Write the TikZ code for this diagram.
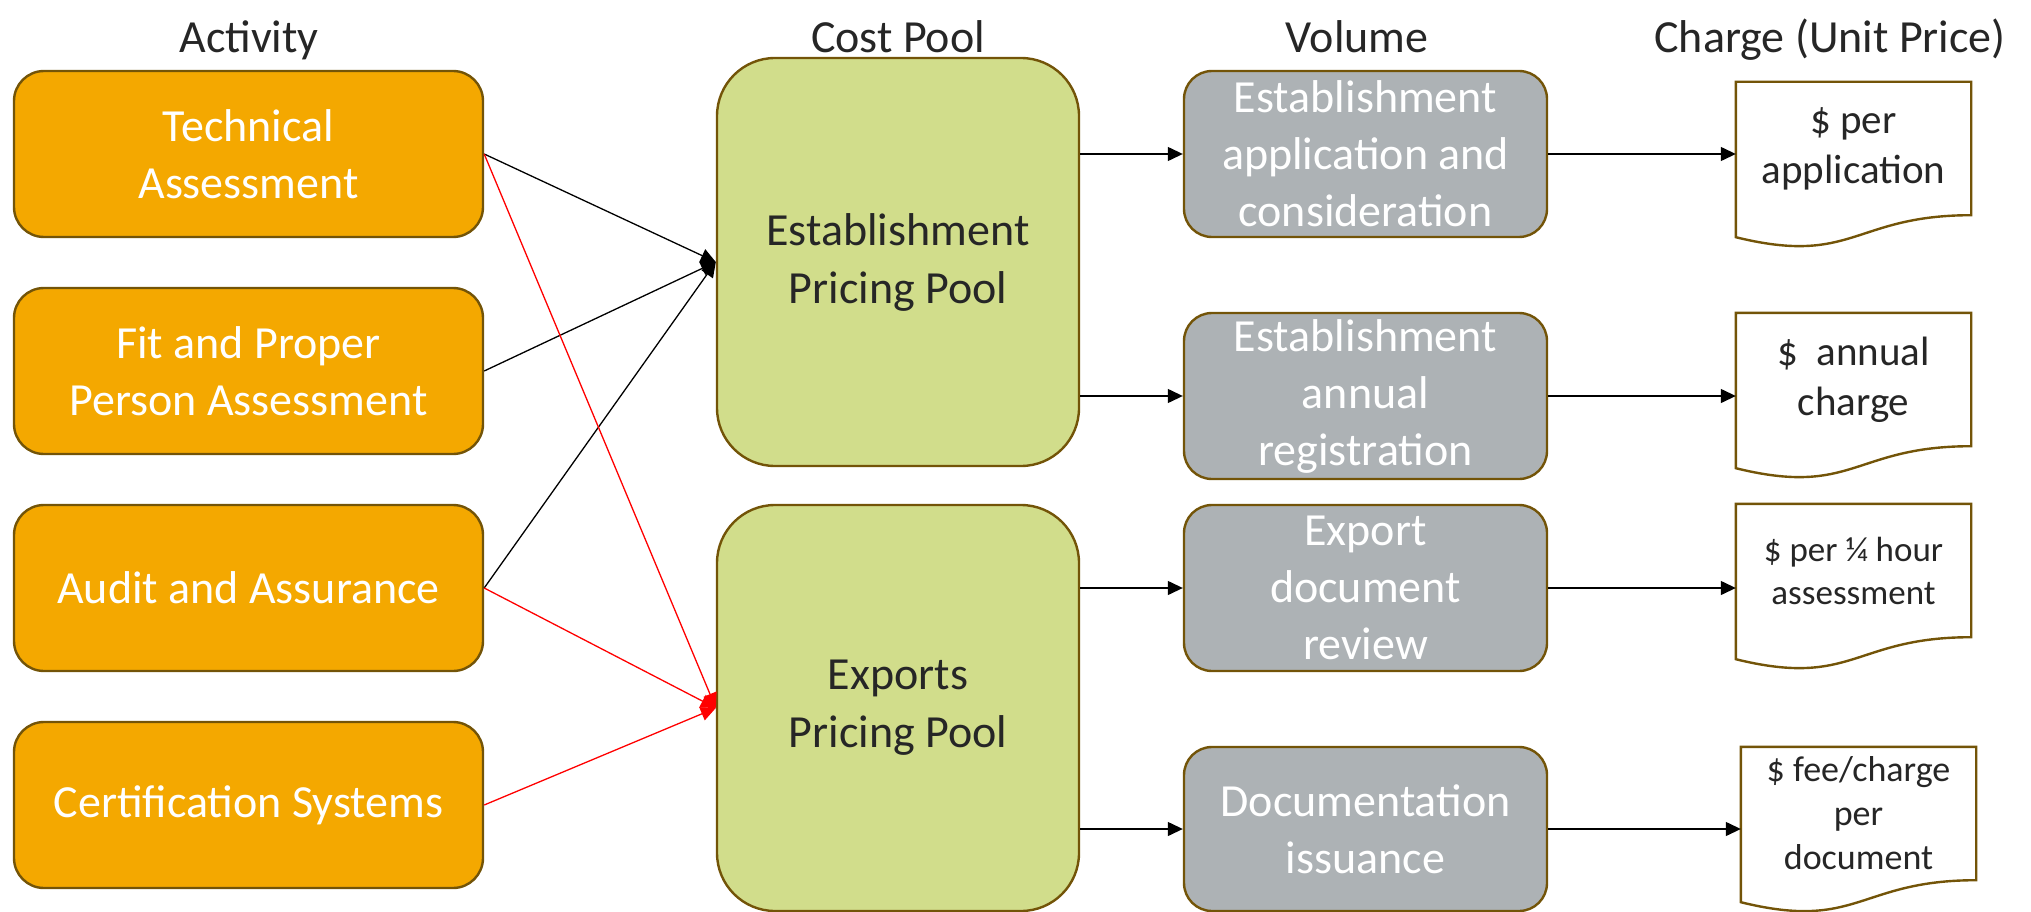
\documentclass[tikz,border=0pt]{standalone}
\usepackage{fontspec}
\setmainfont{Carlito}
\usetikzlibrary{arrows.meta,calc}

\definecolor{actorange}{RGB}{244,168,0}
\definecolor{poolgreen}{RGB}{209,221,139}
\definecolor{volgray}{RGB}{173,178,181}
\definecolor{edgebrown}{RGB}{115,84,8}
\definecolor{inkdark}{RGB}{38,38,38}

\tikzset{every node/.style={inner sep=0pt, align=center}}

\begin{document}
\begin{tikzpicture}[x=1pt, y=-1pt,
			box/.style={draw=edgebrown, line width=2.4pt, minimum height=166pt},
			act/.style={box, fill=actorange, text=white, minimum width=469pt, rounded corners=30pt, font=\fontsize{46}{57}\selectfont},
			pool/.style={box, fill=poolgreen, text=inkdark, minimum width=362pt, rounded corners=58pt, font=\fontsize{46}{58}\selectfont},
			vol/.style={box, fill=volgray, text=white, minimum width=363pt, rounded corners=28pt, font=\fontsize{46}{57}\selectfont},
			doc/.style={minimum width=235pt, minimum height=133pt, text=inkdark},
			docline/.style={draw=edgebrown, line width=2.4pt},
			head/.style={anchor=base, text=inkdark, font=\fontsize{46}{56}\selectfont},
			feed/.style={line width=1.3pt, -{Triangle[length=15pt,width=14pt]}},
			]
			\useasboundingbox (0,0) rectangle (2031,912);
			
			% Column headings
			\node[head] (hact) at (249,53) {Activity};
			\node[head] (hpool) at (898,53) {Cost Pool};
			\node[head] (hvol) at (1357,53) {Volume};
			\node[head] (hchg) at (1830,53) {Charge (Unit Price)};
			
			% Activities, one under the other
			\foreach \txt [count=\n from 1] in {{Technical\\Assessment},{Fit and Proper\\Person Assessment},{Audit and Assurance},{Certification Systems}} {
				\node[act] (a\n) at (248.5,{154+217*(\n-1)}) {\txt};
			}
			
			% Cost pools
			\node[pool, minimum height=408pt] (p1) at (898,262) {Establishment\\Pricing Pool};
			\node[pool, minimum height=406pt] (p2) at (898,708) {Exports\\Pricing Pool};
			
			% Volume drivers
			\node[vol] (v1) at (1365.5,154) {Establishment\\application and\\consideration};
			\node[vol] (v2) at (1365.5,396) {Establishment\\annual\\registration};
			\node[vol] (v3) at (1365.5,588) {Export\\document\\review};
			\node[vol, minimum height=164pt] (v4) at (1365.5,829) {Documentation\\issuance};
			
			% Charges (document shapes)
			\node[doc, font=\fontsize{41}{50}\selectfont] (d1) at (1853.5,148.5) {\$ per\\application};
			\node[doc, font=\fontsize{41}{50}\selectfont] (d2) at (1853.5,379.5) {\$~ annual\\charge};
			\node[doc, font=\fontsize{35}{43}\selectfont] (d3) at (1853.5,570.5) {\$ per ¼ hour\\assessment};
			\node[doc, font=\fontsize{36}{44}\selectfont] (d4) at (1858.5,813.5) {\$ fee/charge\\per\\document};
			\foreach \d in {d1,d2,d3,d4} {
				\draw[docline] (\d.south east) -- (\d.north east) -- (\d.north west) -- ($(\d.south west)+(0,22)$)
				.. controls ($(\d.south)+(0,51)$) and (\d.south) .. (\d.south east) -- cycle;
			}
			
			% Activities into the pools
			\foreach \a in {a1,a2,a3} {
				\draw[feed] (\a.east) -- (p1.west);
			}
			\foreach \a in {a1,a3,a4} {
				\draw[feed, red] (\a.east) -- (p2.west);
			}
			
			% Pools to volumes
			\draw[feed] (p1.east |- v1.west) -- (v1.west);
			\draw[feed] (p1.east |- v2.west) -- (v2.west);
			\draw[feed] (p2.east |- v3.west) -- (v3.west);
			\draw[feed] (p2.east |- v4.west) -- (v4.west);
			
			% Volumes to charges
			\foreach \n in {1,...,4} {
				\draw[feed] (v\n.east) -- (v\n.east -| d\n.west);
			}
			
		\end{tikzpicture}
\end{document}
